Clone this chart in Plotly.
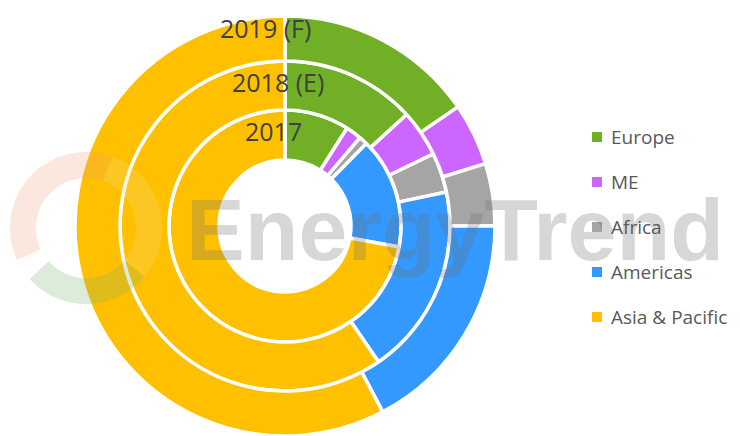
import numpy as np
import plotly.graph_objects as go

regions = ["Europe", "ME", "Africa", "Americas", "Asia & Pacific"]
colors = ["#71AF26", "#CC66FF", "#A5A5A5", "#3399FF", "#FFC000"]
share_2017 = [9.0, 2.2, 1.2, 15.5, 72.1]
share_2018 = [13.2, 4.6, 3.9, 18.7, 59.6]
share_2019 = [15.4, 4.8, 4.8, 17.3, 57.7]
ring_labels = ["2017", "2018 (E)", "2019 (F)"]

W, H = 740, 436
cx, cy_top = 285, 226
cy = H - cy_top
radii = [66, 116, 165, 210]

fig = go.Figure()
series = [share_2017, share_2018, share_2019]
for i, vals in enumerate(series):
    r_in, r_out = radii[i], radii[i + 1]
    fig.add_trace(go.Pie(
        labels=regions, values=vals, sort=False, direction="clockwise", rotation=0,
        hole=r_in / r_out,
        domain=dict(x=[(cx - r_out) / W, (cx + r_out) / W],
                    y=[max(0, (cy - r_out) / H), min(1, (cy + r_out) / H)]),
        marker=dict(colors=colors, line=dict(color="white", width=3.5)),
        textinfo="none", hoverinfo="label+value", showlegend=False,
        name=ring_labels[i],
    ))

annotations = []
# ring labels
label_pos = [(273, 131), (278, 82), (265, 28)]
for lab, (x, y) in zip(ring_labels, label_pos):
    annotations.append(dict(x=x / W, y=1 - y / H, xref="paper", yref="paper", text=lab,
                            showarrow=False, xanchor="center", yanchor="middle",
                            font=dict(family="Open Sans", size=25, color="#404040")))

# watermark
annotations.append(dict(x=455 / W, y=1 - 229 / H, xref="paper", yref="paper", text="<b>EnergyTrend</b>",
                        showarrow=False, xanchor="center", yanchor="middle",
                        font=dict(family="Liberation Sans", size=88, color="rgba(110,110,110,0.28)")))

# legend (manual)
shapes = []
leg_y0, leg_dy = 137, 45
for k, (name, col) in enumerate(zip(regions, colors)):
    y = leg_y0 + k * leg_dy
    shapes.append(dict(type="rect", xref="paper", yref="paper",
                       x0=592 / W, x1=602 / W, y0=1 - (y + 5) / H, y1=1 - (y - 5) / H,
                       fillcolor=col, line=dict(width=0)))
    annotations.append(dict(x=609 / W, y=1 - y / H, xref="paper", yref="paper", text=name,
                            showarrow=False, xanchor="left", yanchor="middle",
                            font=dict(family="Open Sans", size=19, color="#595959")))

# watermark logo ring (decorative)
def arc_path(x0, y0, r, a0, a1, n=40):
    t = np.radians(np.linspace(a0, a1, n))
    xs = (x0 + r * np.cos(t)) / W
    ys = 1 - (y0 - r * np.sin(t)) / H
    return "M " + " L ".join(f"{a:.5f},{b:.5f}" for a, b in zip(xs, ys))

logo_c = (86, 228)
for a0, a1, col in [(-40, 70, "rgba(245,215,140,0.25)"),
                    (70, 205, "rgba(240,160,120,0.25)"),
                    (222, 320, "rgba(120,175,110,0.25)")]:
    shapes.append(dict(type="path", xref="paper", yref="paper", path=arc_path(*logo_c, 63, a0, a1),
                       line=dict(color=col, width=26), layer="above"))

fig.update_layout(width=W, height=H, margin=dict(l=0, r=0, t=0, b=0),
                  paper_bgcolor="white", plot_bgcolor="white",
                  annotations=annotations, shapes=shapes)
fig.write_html("out.html")
